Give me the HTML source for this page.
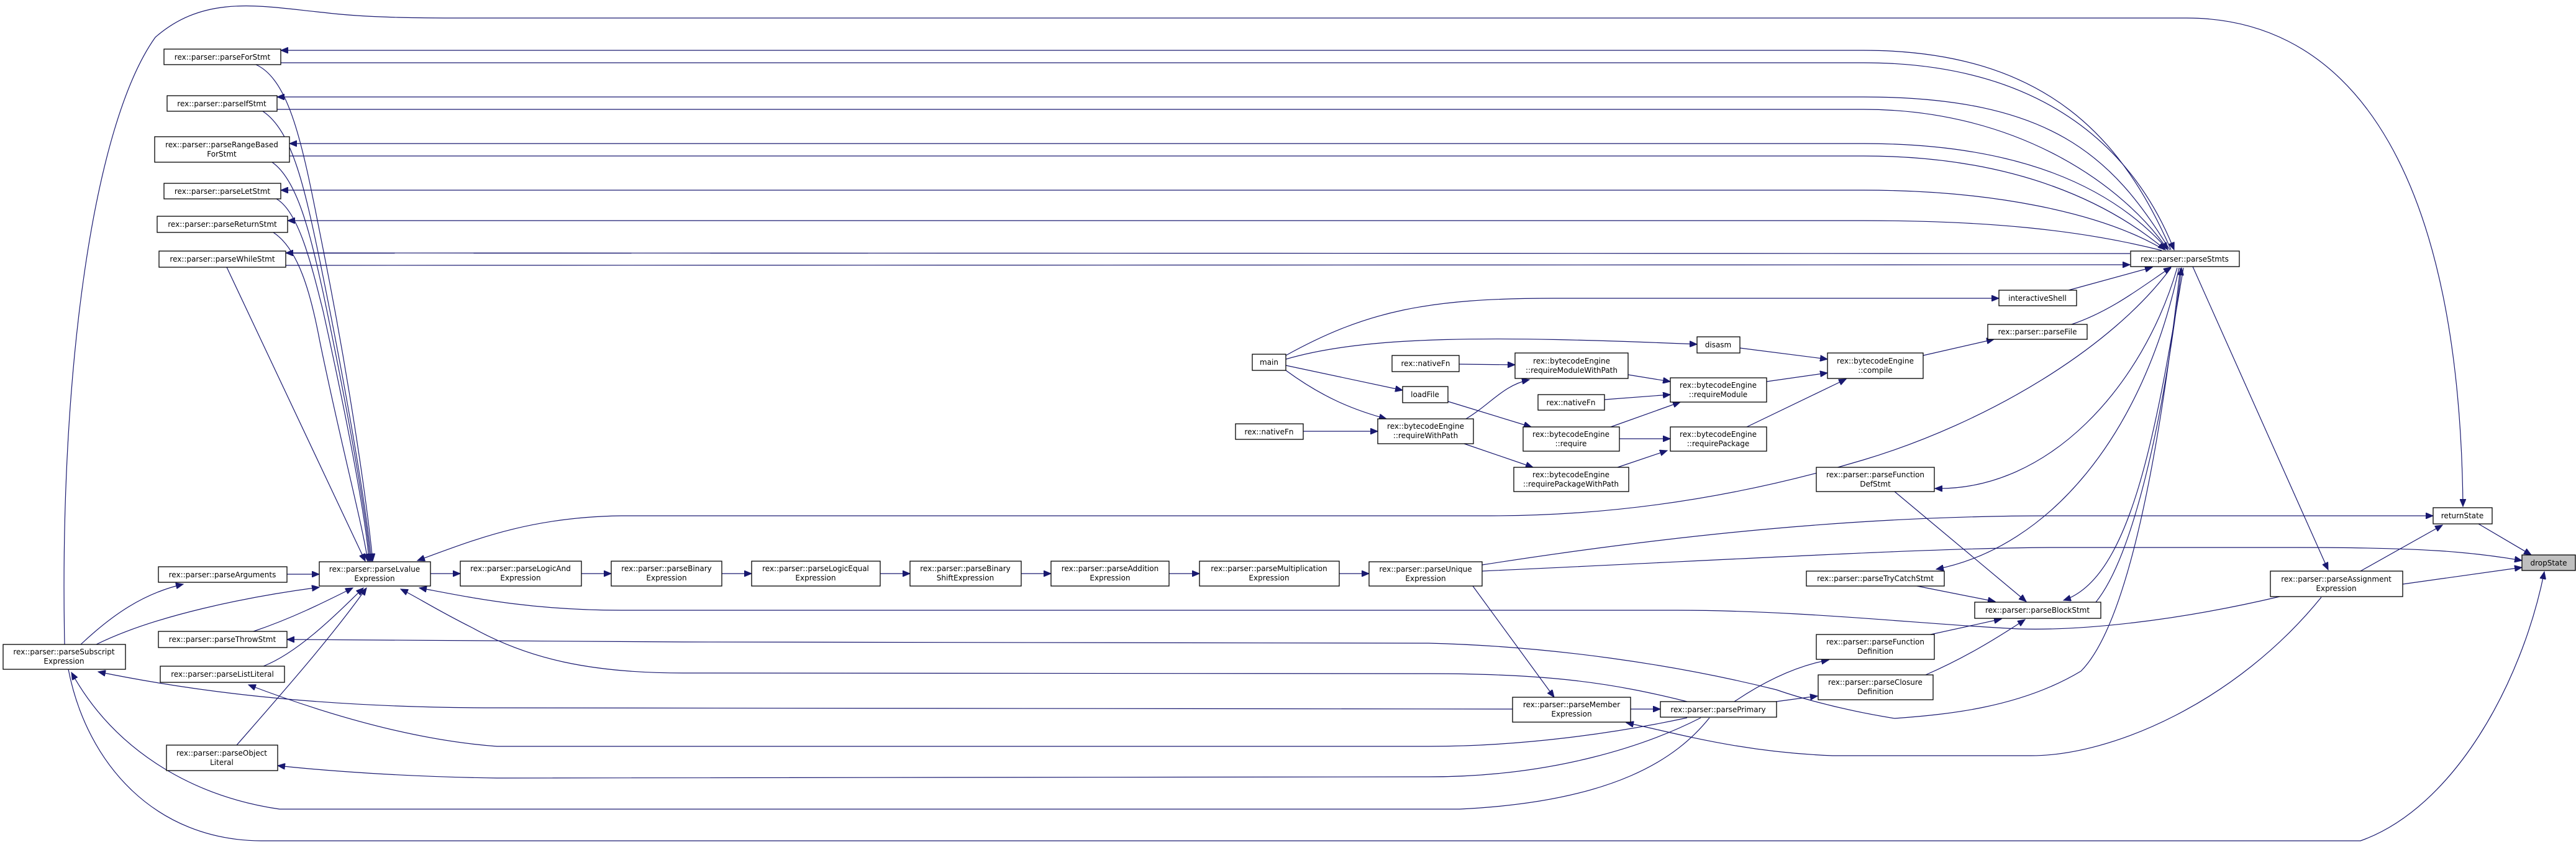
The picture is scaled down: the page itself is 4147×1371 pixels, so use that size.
<!DOCTYPE html>
<html><head><meta charset="utf-8"><style>
html,body{margin:0;padding:0;background:#fff;}
svg{display:block;}
text{font-family:"DejaVu Sans","Liberation Sans",sans-serif;font-size:12px;fill:#000;}
.e{fill:none;stroke:#191970;stroke-width:1.2;marker-end:url(#a);}
.n{fill:#fff;stroke:#000;stroke-width:1.3;}
</style></head><body>
<svg width="4147" height="1371" viewBox="0 0 4147 1371" xmlns="http://www.w3.org/2000/svg">
<defs><marker id="a" markerUnits="userSpaceOnUse" markerWidth="14" markerHeight="10" refX="12" refY="5" orient="auto"><polygon points="0,0 12,5 0,10" fill="#191970" stroke="#191970"/></marker></defs>
<g>
<path class="e" d="M104,1037 C95,600 150,200 250,60 C330,-10 420,10 520,20 C600,30 700,29 800,29 L3520,29 C3800,29 3960,300 3965,815"/>
<path class="e" d="M3495,402 C3420,230 3300,81 3000,81 L452,81"/>
<path class="e" d="M452,101 L3000,101 C3300,101 3440,250 3500,402"/>
<path class="e" d="M3493,402 C3400,250 3300,156 3000,156 L446,156"/>
<path class="e" d="M446,176 L3000,176 C3250,176 3420,300 3490,402"/>
<path class="e" d="M3490,402 C3400,300 3250,231 3000,231 L466,231"/>
<path class="e" d="M466,251 L3000,251 C3250,251 3400,330 3486,402"/>
<path class="e" d="M3484,402 C3380,340 3200,306 3000,306 L452,306"/>
<path class="e" d="M3480,403 C3350,370 3200,355 3000,355 L463,355"/>
<path class="e" d="M3429,408 L460,407"/>
<path class="e" d="M460,427 L3429,426"/>
<path class="e" d="M412,104 C470,130 490,250 520,400 C560,600 590,800 600,903"/>
<path class="e" d="M423,179 C470,210 490,300 515,420 C560,640 590,820 598,903"/>
<path class="e" d="M438,261 C480,290 500,380 520,470 C560,660 590,830 596,903"/>
<path class="e" d="M445,320 C480,340 500,420 520,500 C560,680 590,840 594,903"/>
<path class="e" d="M440,374 C480,400 500,470 515,550 C550,720 585,850 592,903"/>
<path class="e" d="M365,430 L588,903"/>
<path class="e" d="M3495,431 C3400,560 3200,680 3000,740 C2800,800 2600,830 2400,830 L1000,830 C850,832 760,870 672,902"/>
<path class="e" d="M2386,909 C2700,860 3000,830 3300,830 L3917,830"/>
<path class="e" d="M2386,919 C2800,900 3100,882 3300,881 L3700,881 C3900,881 3980,888 4060,902"/>
<path class="e" d="M3990,843 L4075,893"/>
<path class="e" d="M3868,940 L4060,913"/>
<path class="e" d="M3800,919 L3932,845"/>
<path class="e" d="M3530,429 L3748,917"/>
<path class="e" d="M3670,960 C3500,1000 3350,1015 3250,1012 C3100,1005 2900,982 2700,982 L1000,982 C850,982 750,960 675,946"/>
<path class="e" d="M3737,961 C3600,1130 3400,1216 3270,1216 L2950,1216 C2800,1210 2700,1180 2618,1163"/>
<path class="e" d="M3510,431 C3480,700 3430,1000 3350,1080 C3250,1140 3130,1150 3050,1156 C2950,1140 2880,1117 2860,1110 C2700,1070 2500,1040 2300,1035 L1100,1033 L462,1029"/>
<path class="e" d="M2716,1129 C2600,1100 2500,1084 2300,1084 L1100,1083 C950,1083 850,1060 760,1010 C700,980 670,960 645,948"/>
<path class="e" d="M2435,1141 L800,1139 C500,1139 300,1110 158,1081"/>
<path class="e" d="M2716,1155 C2600,1180 2450,1201 2300,1201 L800,1201 C650,1190 500,1140 400,1102"/>
<path class="e" d="M2738,1155 C2650,1200 2500,1250 2300,1250 L800,1252 C650,1250 520,1240 447,1232"/>
<path class="e" d="M2752,1155 C2700,1220 2600,1290 2350,1302 L450,1302 C300,1280 180,1200 115,1082"/>
<path class="e" d="M110,1077 C140,1230 250,1352 420,1353 L3800,1353 C3950,1300 4060,1100 4096,920"/>
<path class="e" d="M2371,943 L2502,1122"/>
<path class="e" d="M2625,1141 L2673,1141"/>
<path class="e" d="M2792,1129 C2850,1090 2900,1070 2944,1062"/>
<path class="e" d="M2859,1129 L2926,1120"/>
<path class="e" d="M3050,791 L3262,968"/>
<path class="e" d="M3086,943 L3212,968"/>
<path class="e" d="M3108,1021 L3222,996"/>
<path class="e" d="M3100,1086 C3160,1060 3210,1030 3260,997"/>
<path class="e" d="M3505,431 C3450,620 3300,790 3115,786"/>
<path class="e" d="M3508,431 C3450,700 3300,880 3117,916"/>
<path class="e" d="M3515,431 C3470,700 3430,930 3322,966"/>
<path class="e" d="M3374,969 C3430,900 3480,700 3512,431"/>
<path class="e" d="M3330,467 L3465,430"/>
<path class="e" d="M3335,522 C3400,500 3450,460 3495,430"/>
<path class="e" d="M2070,572 C2200,500 2300,480 2500,480 L3218,480"/>
<path class="e" d="M3096,572 L3210,546"/>
<path class="e" d="M2801,560 L2942,578"/>
<path class="e" d="M2844,614 L2942,600"/>
<path class="e" d="M2812,687 L2972,610"/>
<path class="e" d="M2070,578 C2200,540 2400,540 2732,554"/>
<path class="e" d="M2070,588 L2258,628"/>
<path class="e" d="M2070,596 C2130,640 2180,660 2232,674"/>
<path class="e" d="M2349,586 L2439,587"/>
<path class="e" d="M2360,674 C2400,650 2420,620 2462,611"/>
<path class="e" d="M2331,646 L2465,687"/>
<path class="e" d="M2098,694 L2218,694"/>
<path class="e" d="M2357,714 L2468,752"/>
<path class="e" d="M2621,603 L2689,614"/>
<path class="e" d="M2583,643 L2689,635"/>
<path class="e" d="M2593,687 L2705,647"/>
<path class="e" d="M2607,706 L2689,706"/>
<path class="e" d="M2604,752 L2684,725"/>
<path class="e" d="M462,924 L514,924"/>
<path class="e" d="M130,1037 C180,990 230,955 295,940"/>
<path class="e" d="M155,1037 C250,990 400,960 514,945"/>
<path class="e" d="M408,1016 C470,995 520,970 568,946"/>
<path class="e" d="M424,1072 C480,1050 540,990 585,946"/>
<path class="e" d="M381,1199 C450,1120 530,1030 590,946"/>
<path class="e" d="M693,923 L741,923"/>
<path class="e" d="M936,923 L984,923"/>
<path class="e" d="M1162,923 L1210,923"/>
<path class="e" d="M1417,923 L1465,923"/>
<path class="e" d="M1644,923 L1692,923"/>
<path class="e" d="M1882,923 L1931,923"/>
<path class="e" d="M2156,923 L2204,923"/>
</g>
<g text-anchor="middle">
<rect class="n" x="264" y="79" width="188" height="25"/><text x="358" y="96">rex::parser::parseForStmt</text>
<rect class="n" x="269" y="154" width="177" height="25"/><text x="357" y="171">rex::parser::parseIfStmt</text>
<rect class="n" x="249" y="220" width="217" height="41"/><text x="357" y="237">rex::parser::parseRangeBased</text><text x="357" y="252">ForStmt</text>
<rect class="n" x="264" y="295" width="188" height="25"/><text x="358" y="312">rex::parser::parseLetStmt</text>
<rect class="n" x="253" y="348" width="210" height="26"/><text x="358" y="365">rex::parser::parseReturnStmt</text>
<rect class="n" x="256" y="404" width="204" height="26"/><text x="358" y="421">rex::parser::parseWhileStmt</text>
<rect class="n" x="255" y="912" width="207" height="25"/><text x="358" y="929">rex::parser::parseArguments</text>
<rect class="n" x="514" y="904" width="179" height="39"/><text x="603" y="920">rex::parser::parseLvalue</text><text x="603" y="935">Expression</text>
<rect class="n" x="255" y="1016" width="207" height="26"/><text x="358" y="1033">rex::parser::parseThrowStmt</text>
<rect class="n" x="5" y="1037" width="197" height="40"/><text x="103" y="1053">rex::parser::parseSubscript</text><text x="103" y="1068">Expression</text>
<rect class="n" x="258" y="1072" width="200" height="26"/><text x="358" y="1089">rex::parser::parseListLiteral</text>
<rect class="n" x="268" y="1199" width="179" height="41"/><text x="357" y="1216">rex::parser::parseObject</text><text x="357" y="1231">Literal</text>
<rect class="n" x="741" y="903" width="195" height="40"/><text x="838" y="919">rex::parser::parseLogicAnd</text><text x="838" y="934">Expression</text>
<rect class="n" x="984" y="903" width="178" height="40"/><text x="1073" y="919">rex::parser::parseBinary</text><text x="1073" y="934">Expression</text>
<rect class="n" x="1210" y="903" width="207" height="40"/><text x="1313" y="919">rex::parser::parseLogicEqual</text><text x="1313" y="934">Expression</text>
<rect class="n" x="1465" y="903" width="179" height="40"/><text x="1554" y="919">rex::parser::parseBinary</text><text x="1554" y="934">ShiftExpression</text>
<rect class="n" x="1692" y="903" width="190" height="40"/><text x="1787" y="919">rex::parser::parseAddition</text><text x="1787" y="934">Expression</text>
<rect class="n" x="1931" y="903" width="225" height="40"/><text x="2043" y="919">rex::parser::parseMultiplication</text><text x="2043" y="934">Expression</text>
<rect class="n" x="2204" y="904" width="182" height="39"/><text x="2295" y="920">rex::parser::parseUnique</text><text x="2295" y="935">Expression</text>
<rect class="n" x="2016" y="570" width="54" height="26"/><text x="2043" y="587">main</text>
<rect class="n" x="2241" y="572" width="108" height="26"/><text x="2295" y="589">rex::nativeFn</text>
<rect class="n" x="2439" y="568" width="182" height="41"/><text x="2530" y="585">rex::bytecodeEngine</text><text x="2530" y="600">::requireModuleWithPath</text>
<rect class="n" x="2732" y="542" width="69" height="26"/><text x="2766" y="559">disasm</text>
<rect class="n" x="2942" y="568" width="154" height="41"/><text x="3019" y="585">rex::bytecodeEngine</text><text x="3019" y="600">::compile</text>
<rect class="n" x="2258" y="622" width="73" height="26"/><text x="2294" y="639">loadFile</text>
<rect class="n" x="2476" y="635" width="107" height="25"/><text x="2529" y="652">rex::nativeFn</text>
<rect class="n" x="2689" y="608" width="155" height="39"/><text x="2766" y="624">rex::bytecodeEngine</text><text x="2766" y="639">::requireModule</text>
<rect class="n" x="1989" y="682" width="109" height="25"/><text x="2043" y="699">rex::nativeFn</text>
<rect class="n" x="2218" y="674" width="154" height="40"/><text x="2295" y="690">rex::bytecodeEngine</text><text x="2295" y="705">::requireWithPath</text>
<rect class="n" x="2452" y="687" width="155" height="39"/><text x="2529" y="703">rex::bytecodeEngine</text><text x="2529" y="718">::require</text>
<rect class="n" x="2689" y="687" width="155" height="39"/><text x="2766" y="703">rex::bytecodeEngine</text><text x="2766" y="718">::requirePackage</text>
<rect class="n" x="2437" y="752" width="185" height="39"/><text x="2529" y="768">rex::bytecodeEngine</text><text x="2529" y="783">::requirePackageWithPath</text>
<rect class="n" x="2924" y="752" width="190" height="39"/><text x="3019" y="768">rex::parser::parseFunction</text><text x="3019" y="783">DefStmt</text>
<rect class="n" x="2908" y="919" width="222" height="24"/><text x="3019" y="935">rex::parser::parseTryCatchStmt</text>
<rect class="n" x="3179" y="969" width="203" height="26"/><text x="3280" y="986">rex::parser::parseBlockStmt</text>
<rect class="n" x="2924" y="1021" width="190" height="40"/><text x="3019" y="1037">rex::parser::parseFunction</text><text x="3019" y="1052">Definition</text>
<rect class="n" x="2927" y="1086" width="185" height="40"/><text x="3019" y="1102">rex::parser::parseClosure</text><text x="3019" y="1117">Definition</text>
<rect class="n" x="2435" y="1122" width="190" height="40"/><text x="2530" y="1138">rex::parser::parseMember</text><text x="2530" y="1153">Expression</text>
<rect class="n" x="2673" y="1129" width="187" height="25"/><text x="2766" y="1146">rex::parser::parsePrimary</text>
<rect class="n" x="3430" y="404" width="175" height="25"/><text x="3517" y="421">rex::parser::parseStmts</text>
<rect class="n" x="3218" y="467" width="125" height="25"/><text x="3280" y="484">interactiveShell</text>
<rect class="n" x="3200" y="522" width="160" height="24"/><text x="3280" y="538">rex::parser::parseFile</text>
<rect class="n" x="3917" y="817" width="95" height="26"/><text x="3964" y="834">returnState</text>
<rect x="4060" y="893" width="86" height="25" fill="#bfbfbf" stroke="#000" stroke-width="1.3"/><text x="4103" y="910">dropState</text>
<rect class="n" x="3655" y="919" width="213" height="41"/><text x="3761" y="936">rex::parser::parseAssignment</text><text x="3761" y="951">Expression</text>
</g>
</svg>
</body></html>
